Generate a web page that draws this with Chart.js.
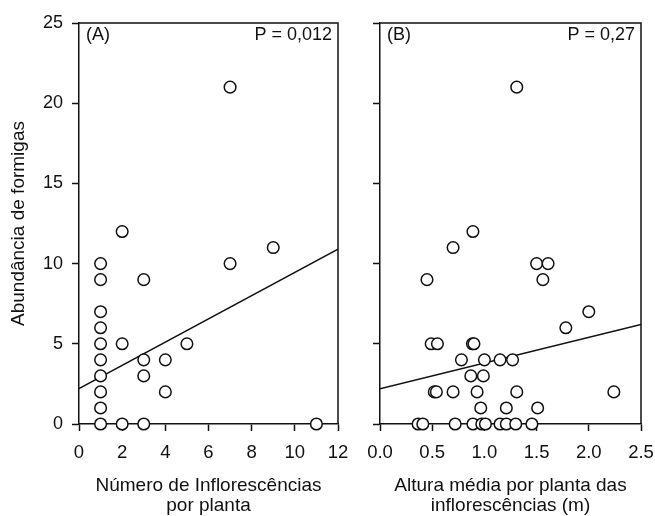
<!DOCTYPE html>
<html>
<head>
<meta charset="utf-8">
<script src="https://cdn.jsdelivr.net/npm/chart.js@4"></script>
<style>
  html, body { margin: 0; padding: 0; background: #fff; }
  #wrap { position: relative; width: 655px; height: 516px; }
  canvas { position: absolute; left: 0; top: 0; }
</style>
</head>
<body>
<div id="wrap">
  <canvas id="cA" width="655" height="516"></canvas>
  <canvas id="cB" width="655" height="516"></canvas>
</div>
<script>
// ---- Panel A data: number of inflorescences vs ant abundance ----
const inflorescencesA = [1,1,1,1,1,1,1,1,1,1, 2,2,2, 3,3,3,3, 4,4, 5, 7,7, 9, 11];
const abundanceA      = [10,9,7,6,5,4,3,2,1,0, 12,5,0, 9,4,3,0, 4,2, 5, 10,21, 11, 0];
const fitA_x = [0, 12];
const fitA_y = [2.2, 10.9];
const xTicksA = [0, 2, 4, 6, 8, 10, 12];

// ---- Panel B data: mean height of inflorescences vs ant abundance ----
const heightB = [0.45, 0.70, 0.89, 1.31, 1.50, 1.61, 1.56, 2.00, 1.78,
                 0.49, 0.55, 0.885, 0.90,
                 0.78, 1.00, 1.15, 1.27,
                 0.87, 0.99,
                 0.52, 0.54, 0.70, 0.93, 1.31, 2.24,
                 0.965, 1.21, 1.51,
                 0.365, 0.41, 0.72, 0.89, 0.975, 1.01, 1.15, 1.21, 1.30, 1.455];
const abundanceB = [9, 11, 12, 21, 10, 10, 9, 7, 6,
                    5, 5, 5, 5,
                    4, 4, 4, 4,
                    3, 3,
                    2, 2, 2, 2, 2, 2,
                    1, 1, 1,
                    0, 0, 0, 0, 0, 0, 0, 0, 0, 0];
const fitB_x = [0, 2.5];
const fitB_y = [2.2, 6.2];
const xTicksB = [0, 0.5, 1.0, 1.5, 2.0, 2.5];
const yTicks = [0, 5, 10, 15, 20, 25];

const FONT = "'Liberation Sans', Arial, sans-serif";
const INK = '#111';

function pts(xs, ys) { return xs.map((x, i) => ({x: x, y: ys[i]})); }

const frame = {
  id: 'frame',
  afterDraw(chart, args, opts) {
    const a = chart.chartArea, ctx = chart.ctx;
    ctx.save();
    ctx.strokeStyle = INK;
    ctx.lineWidth = 1.5;
    ctx.beginPath();
    ctx.moveTo(a.left, a.top);
    ctx.lineTo(a.right, a.top);
    ctx.lineTo(a.right, a.bottom);
    ctx.stroke();
    ctx.fillStyle = INK;
    ctx.font = '18px ' + FONT;
    ctx.textBaseline = 'middle';
    ctx.textAlign = 'left';
    ctx.fillText(opts.tag, a.left + 7, a.top + 12);
    ctx.textAlign = 'right';
    ctx.fillText(opts.p, a.right - 6, a.top + 12);
    ctx.restore();
  }
};

function makeChart(id, xs, ys, fx, fy, xTicks, xmin, xmax, step, decimals, padLeft, padRight, yWidth, showY, tag, p, xTitle) {
  return new Chart(document.getElementById(id), {
    type: 'scatter',
    data: {
      datasets: [
        {
          data: pts(xs, ys),
          pointStyle: 'circle',
          pointRadius: 5.8,
          pointBorderWidth: 1.5,
          pointBackgroundColor: '#fff',
          pointBorderColor: INK,
          clip: false,
          order: 1
        },
        {
          type: 'line',
          data: pts(fx, fy),
          borderColor: INK,
          borderWidth: 1.5,
          pointRadius: 0,
          fill: false,
          order: 2
        }
      ]
    },
    options: {
      responsive: false,
      animation: false,
      events: [],
      layout: { padding: { left: padLeft, right: padRight, top: 23, bottom: 0 } },
      plugins: { legend: { display: false }, tooltip: { enabled: false }, frame: { tag: tag, p: p } },
      scales: {
        x: {
          type: 'linear',
          min: xmin, max: xmax,
          afterFit(s) { s.height = 92; s.paddingLeft = 0; s.paddingRight = 0; },
          afterBuildTicks(s) { s.ticks = xTicks.map(v => ({value: v})); },
          border: { display: true, color: INK, width: 1.5 },
          grid: { display: true, drawOnChartArea: false, drawTicks: true, tickLength: 7, tickColor: INK, tickWidth: 1.5 },
          ticks: {
            color: INK, font: { family: FONT, size: 18.5 }, padding: 11,
            autoSkip: false, maxRotation: 0,
            callback: v => Number(v).toFixed(decimals)
          },
          title: {
            display: true, text: xTitle, color: INK,
            font: { family: FONT, size: 19, lineHeight: '20px' },
            padding: { top: 0, bottom: 0 }
          }
        },
        y: {
          type: 'linear',
          min: 0, max: 25,
          afterFit(s) { s.width = yWidth; s.paddingTop = 0; s.paddingBottom = 0; },
          afterBuildTicks(s) { s.ticks = yTicks.map(v => ({value: v})); },
          border: { display: true, color: INK, width: 1.5 },
          grid: { display: true, drawOnChartArea: false, drawTicks: true, tickLength: 7, tickColor: INK, tickWidth: 1.5 },
          ticks: { display: showY, color: INK, font: { family: FONT, size: 18 }, padding: 9 },
          title: {
            display: showY, text: 'Abundância de formigas', color: INK,
            font: { family: FONT, size: 19, lineHeight: '20px' },
            padding: { top: 9, bottom: 0 }
          }
        }
      }
    },
    plugins: [frame]
  });
}

makeChart('cA', inflorescencesA, abundanceA, fitA_x, fitA_y, xTicksA, 0, 12, 2, 0,
          0, 655 - 338, 79, true, '(A)', 'P = 0,012', ['Número de Inflorescências', 'por planta']);
makeChart('cB', heightB, abundanceB, fitB_x, fitB_y, xTicksB, 0, 2.5, 0.5, 1,
          345, 655 - 641, 35, false, '(B)', 'P = 0,27', ['Altura média por planta das', 'inflorescências (m)']);
</script>
</body>
</html>
